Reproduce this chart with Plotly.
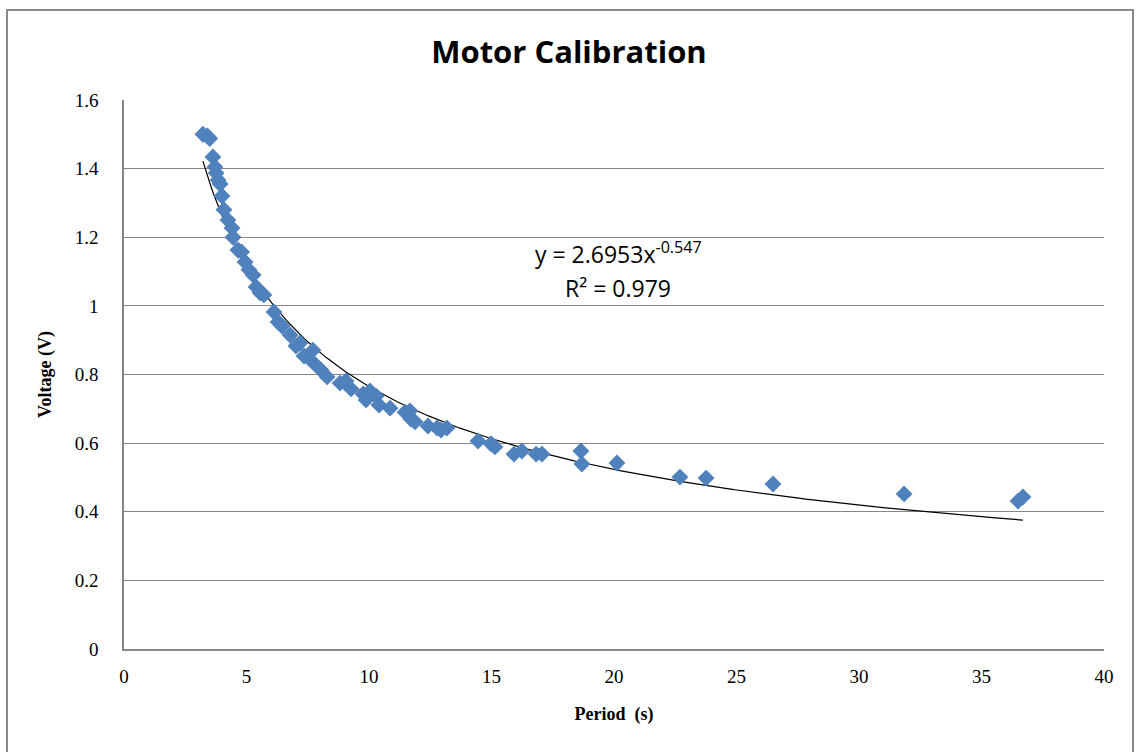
import plotly.graph_objects as go
import numpy as np

# Data
period_s = [3.22, 3.40, 3.50, 3.63, 3.71, 3.76, 3.84, 3.92, 4.00, 4.08, 4.24, 4.41, 4.45,
            4.65, 4.80, 4.94, 5.10, 5.27, 5.39, 5.55, 5.71, 6.12, 6.29, 6.45, 6.78,
            7.02, 7.18, 7.35, 7.71, 7.71, 8.04, 8.29, 8.82, 9.06, 9.27, 9.76, 9.88,
            10.04, 10.29, 10.41, 10.86, 11.47, 11.67, 11.71, 11.88, 12.41, 12.78,
            12.94, 13.18, 14.45, 14.98, 15.14, 15.92, 16.24, 16.82, 17.06, 18.65,
            18.69, 20.12, 22.69, 23.76, 26.49, 31.84, 36.49, 36.69]
voltage_v = [1.500, 1.495, 1.488, 1.434, 1.405, 1.387, 1.367, 1.355, 1.320, 1.280, 1.250,
             1.227, 1.200, 1.163, 1.157, 1.128, 1.105, 1.090, 1.055, 1.038, 1.032, 0.982,
             0.953, 0.941, 0.915, 0.883, 0.892, 0.854, 0.871, 0.836, 0.813, 0.793, 0.775,
             0.781, 0.758, 0.743, 0.726, 0.752, 0.737, 0.711, 0.702, 0.690, 0.694, 0.670,
             0.662, 0.650, 0.644, 0.638, 0.644, 0.606, 0.598, 0.589, 0.568, 0.577, 0.568,
             0.568, 0.577, 0.539, 0.542, 0.501, 0.498, 0.481, 0.452, 0.431, 0.443]

# Power trendline shown on the chart: y = 2.6953 x^-0.547
fit_a = 2.6953
fit_b = -0.547
fit_x = np.linspace(min(period_s), max(period_s), 300)
fit_y = fit_a * fit_x ** fit_b

fig = go.Figure()
fig.add_trace(go.Scatter(
    x=fit_x, y=fit_y, mode="lines",
    line=dict(color="black", width=1.2), showlegend=False, hoverinfo="skip"))
fig.add_trace(go.Scatter(
    x=period_s, y=voltage_v, mode="markers",
    marker=dict(symbol="diamond", size=13, color="#4F81BD",
                line=dict(width=0)),
    showlegend=False))

tickfont = dict(family="Liberation Serif, Times New Roman, serif", size=19, color="black")
titlefont = dict(family="Liberation Serif, Times New Roman, serif", size=18, color="black")
calfont = "Open Sans, Lato, sans-serif"

fig.update_layout(
    width=1138, height=752,
    margin=dict(l=124, r=34, t=100, b=103),
    paper_bgcolor="white", plot_bgcolor="white",
    title=dict(text="<b>Motor Calibration</b>", x=0.5, xanchor="center",
               y=1 - 52 / 752, yanchor="middle",
               font=dict(family=calfont, size=31, color="black")),
    xaxis=dict(range=[0, 40], dtick=5, tick0=0, showgrid=False, zeroline=False,
               showline=True, linecolor="#868686", linewidth=1.5,
               ticks="", tickfont=tickfont, ticklabelstandoff=9,
               title=dict(text="<b>Period  (s)</b>", font=titlefont, standoff=22)),
    yaxis=dict(range=[0, 1.6], dtick=0.2, tick0=0, showgrid=True,
               gridcolor="#868686", gridwidth=1, zeroline=False,
               showline=True, linecolor="#868686", linewidth=1.5,
               ticks="", tickfont=tickfont, ticklabelstandoff=20,
               title=dict(text="<b>Voltage (V)</b>", font=titlefont, standoff=18)),
)

fig.add_annotation(
    xref="paper", yref="paper", x=(618 - 124) / 980, y=(649 - 272) / 549,
    yanchor="bottom",
    text="y = 2.6953x<sup>-0.547</sup>", showarrow=False,
    font=dict(family=calfont, size=23, color="black"))
fig.add_annotation(
    xref="paper", yref="paper", x=(618 - 124) / 980, y=(649 - 306) / 549,
    yanchor="bottom",
    text="R² = 0.979", showarrow=False,
    font=dict(family=calfont, size=23, color="black"))

# Outer chart border
fig.add_shape(type="rect", xref="paper", yref="paper",
              x0=(7 - 124) / 980, x1=(1133 - 124) / 980,
              y0=(649 - 770) / 549, y1=(649 - 10) / 549,
              line=dict(color="#898989", width=2), layer="below")

fig.write_html("out.html")
